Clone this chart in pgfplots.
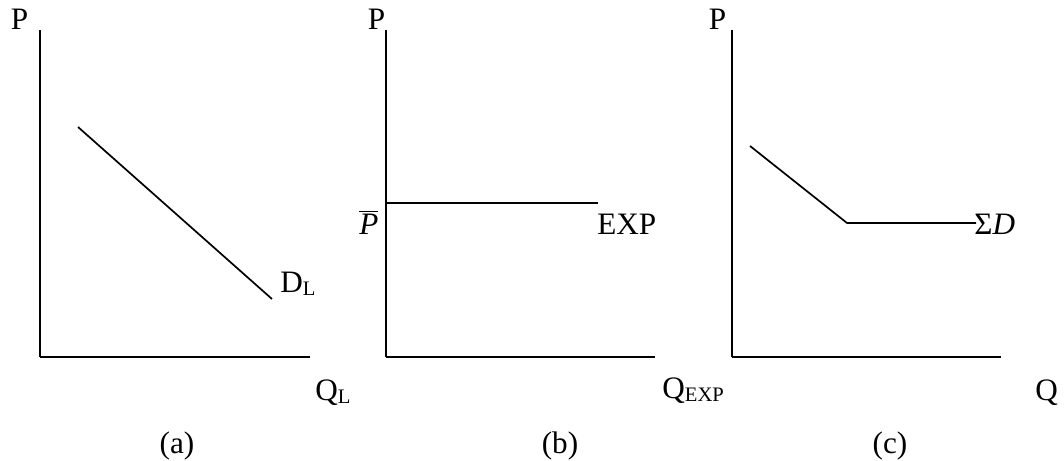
\documentclass[border=0pt]{standalone}
\usepackage{pgfplots}
\pgfplotsset{compat=1.18}
\usepackage{fontspec}
\setmainfont{Liberation Serif}
\newcommand\sub[1]{\raisebox{-1.5bp}{\fontsize{10.3bp}{12bp}\selectfont #1}}
\pgfplotsset{panel/.style={
  scale only axis, anchor=south west, clip=false,
  axis lines=left, axis line style={-, line width=1bp, black},
  xtick=\empty, ytick=\empty, ymin=104, ymax=431, height=163.5bp}}
\begin{document}
\begin{tikzpicture}[font=\fontsize{15.6bp}{18bp}\selectfont]
\useasboundingbox (0,0) rectangle (532bp,230.5bp);
% (a)
\begin{axis}[panel, at={(20bp,52bp)}, width=135bp, xmin=40, xmax=310]
\addplot[black, line width=0.85bp, mark=none] coordinates {(78,334) (272,162)};
\node[anchor=base, inner sep=0] at (axis cs:19.5,431) {P};
\node[anchor=base west, inner sep=0] at (axis cs:280,168) {D\sub{L}};
\node[anchor=base west, inner sep=0] at (axis cs:315,61) {Q\sub{L}};
\node[anchor=base, inner sep=0] at (axis cs:177,8) {(a)};
\end{axis}
% (b)
\begin{axis}[panel, at={(193bp,52bp)}, width=134.5bp, xmin=386, xmax=655]
\addplot[black, line width=0.85bp, mark=none] coordinates {(386,258) (598,258)};
\node[anchor=base, inner sep=0] at (axis cs:376.5,431) {P};
\node[anchor=base west, inner sep=0] at (axis cs:359,226) {$\overline{\mbox{\itshape P}}$};
\node[anchor=base west, inner sep=0] at (axis cs:597,226) {EXP};
\node[anchor=base west, inner sep=0] at (axis cs:662,63) {Q\sub{EXP}};
\node[anchor=base, inner sep=0] at (axis cs:560,8) {(b)};
\end{axis}
% (c)
\begin{axis}[panel, at={(366bp,52bp)}, width=134.5bp, xmin=732, xmax=1001]
\addplot[black, line width=0.85bp, mark=none] coordinates {(750,315) (847,238) (976,238)};
\node[anchor=base, inner sep=0] at (axis cs:717.5,431) {P};
\node[anchor=base west, inner sep=0] at (axis cs:974,226) {Σ\textit{D}};
\node[anchor=base west, inner sep=0] at (axis cs:1035,61) {Q};
\node[anchor=base, inner sep=0] at (axis cs:890,8) {(c)};
\end{axis}
\end{tikzpicture}
\end{document}
